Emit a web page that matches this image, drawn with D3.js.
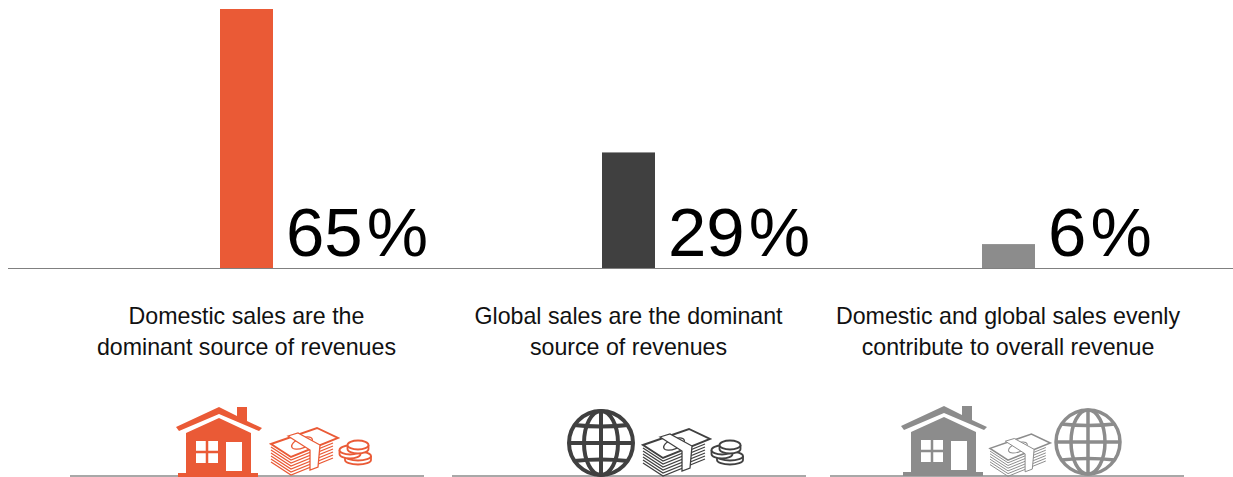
<!DOCTYPE html>
<html>
<head>
<meta charset="utf-8">
<script src="https://cdn.jsdelivr.net/npm/d3@7"></script>
<style>
  html, body { margin: 0; padding: 0; background: #fff; overflow: hidden; }
</style>
</head>
<body>
<div id="div_chart"></div>
<script>
// Chart data
const categories = ["domestic", "global", "even"];
const shares = [65, 29, 6];
const captions = [
    ["Domestic sales are the", "dominant source of revenues"],
    ["Global sales are the dominant", "source of revenues"],
    ["Domestic and global sales evenly", "contribute to overall revenue"]
];

// Basic size information
const svgWidth = 1233;
const svgHeight = 477;
const baseline = 268;
const barWidth = 53;

const colors = d3.scaleOrdinal().domain(categories).range(["#ea5a36", "#404040", "#8c8c8c"]);
const barLeft = d3.scaleOrdinal().domain(categories).range([220, 602, 982]);
const captionX = d3.scaleOrdinal().domain(categories).range([246.5, 628.5, 1008]);
const shelfLeft = d3.scaleOrdinal().domain(categories).range([70, 452, 830]);
const y = d3.scaleLinear().domain([0, 65]).range([baseline, 9]);

const svg = d3.select("#div_chart")
    .append("svg")
        .attr("width", svgWidth)
        .attr("height", svgHeight)
        .attr("viewBox", [0, 0, svgWidth, svgHeight])
        .style("display", "block")
        .style("font-family", "'Liberation Sans', Arial, sans-serif");

// Bars
svg.append("g")
    .selectAll("rect")
    .data(categories)
    .join("rect")
        .attr("x", d => barLeft(d))
        .attr("y", (d, i) => y(shares[i]))
        .attr("width", barWidth)
        .attr("height", (d, i) => baseline - y(shares[i]))
        .attr("fill", d => colors(d));

// Baseline
svg.append("line")
    .attr("x1", 8).attr("x2", svgWidth)
    .attr("y1", baseline + 0.5).attr("y2", baseline + 0.5)
    .attr("stroke", "#808080")
    .attr("stroke-width", 1);

// Percent labels, the % sign sits a little apart from the digits
const pctLabel = svg.append("g")
    .selectAll("text")
    .data(categories)
    .join("text")
        .attr("x", d => barLeft(d) + barWidth + 13)
        .attr("y", 256)
        .attr("font-size", 69)
        .attr("fill", "#000")
        .text((d, i) => shares[i]);
pctLabel.append("tspan")
    .attr("dx", 4)
    .text("%");

// Captions
const captionG = svg.append("g")
    .attr("text-anchor", "middle")
    .attr("font-size", 23.2)
    .attr("fill", "#111");

categories.forEach((c, i) => {
    captionG.selectAll(null)
        .data(captions[i])
        .join("text")
            .attr("x", captionX(c))
            .attr("y", (d, j) => 323.5 + j * 31)
            .text(d => d);
});

// Shelves under the icons
svg.append("g")
    .selectAll("line")
    .data(categories)
    .join("line")
        .attr("x1", d => shelfLeft(d))
        .attr("x2", d => shelfLeft(d) + 354)
        .attr("y1", 476).attr("y2", 476)
        .attr("stroke", "#a8a8a8")
        .attr("stroke-width", 2);

// Icons, in local coordinates
function drawHouse(g, color) {
    // roof band with chimney
    g.append("path")
        .attr("d", "M0,0 L18,9 L18,0 L28,0 L28,14 L43,21 L40,24 L0,7 L-40,24 L-43,20 Z")
        .attr("fill", color);
    // body
    g.append("path")
        .attr("d", "M0,11 L32,26 L32,66 L39,66 L39,70 L-41,70 L-41,66 L-33,66 L-33,26 Z")
        .attr("fill", color);
    // window and door
    g.append("rect").attr("x", -23).attr("y", 34).attr("width", 22).attr("height", 22).attr("fill", "#fff");
    g.append("path").attr("d", "M-12,34 V56 M-23,45 H-1").attr("stroke", color).attr("stroke-width", 2.5);
    g.append("rect").attr("x", 7).attr("y", 35).attr("width", 16).attr("height", 29).attr("fill", "#fff");
}

function drawMoney(g, color, sw) {
    // stack of notes
    d3.range(1, 7).forEach(i => {
        g.append("path")
            .attr("d", "M0," + (16 + i * 3) + " L20," + (29 + i * 3) + " L62," + (12 + i * 3))
            .attr("fill", "none")
            .attr("stroke", color)
            .attr("stroke-width", sw);
    });
    // top note
    g.append("path")
        .attr("d", "M0,16 L46,0 L67,10 L20,29 Z")
        .attr("fill", "#fff")
        .attr("stroke", color)
        .attr("stroke-width", sw + 0.6);
    g.append("ellipse")
        .attr("cx", 31).attr("cy", 15).attr("rx", 11).attr("ry", 5)
        .attr("transform", "rotate(-22 31 15)")
        .attr("fill", "none")
        .attr("stroke", color)
        .attr("stroke-width", sw);
    // paper band
    g.append("path")
        .attr("d", "M17,8 L27,5 L49,17 L47,39 L39,42 L39,22 Z")
        .attr("fill", "#fff")
        .attr("stroke", color)
        .attr("stroke-width", sw);
}

function drawCoins(g, color) {
    [[18, 18, 13], [10, 12, 10.5], [18, 7, 10.5]].forEach(c => {
        const [cx, cy, rx] = c;
        g.append("path")
            .attr("d", "M" + (cx - rx) + "," + cy + " v4 a" + rx + ",4.5 0 0 0 " + (2 * rx) + ",0 v-4")
            .attr("fill", "#fff")
            .attr("stroke", color)
            .attr("stroke-width", 1.8);
        g.append("ellipse")
            .attr("cx", cx).attr("cy", cy).attr("rx", rx).attr("ry", 4.5)
            .attr("fill", "#fff")
            .attr("stroke", color)
            .attr("stroke-width", 1.8);
    });
}

function drawGlobe(g, color, sw) {
    const r = 32;
    const grid = g.append("g")
        .attr("fill", "none")
        .attr("stroke", color)
        .attr("stroke-width", sw);
    grid.append("circle").attr("r", r);
    grid.append("ellipse").attr("rx", 17).attr("ry", r);
    grid.append("path").attr("d", "M0," + -r + " V" + r + " M" + -r + ",0 H" + r);
    grid.append("path").attr("d", "M-27,-18 Q0,-15 27,-18 M-27,18 Q0,15 27,18");
}

function place(x, y, scale) {
    return svg.append("g").attr("transform", "translate(" + x + "," + y + ") scale(" + (scale || 1) + ")");
}

// Panel 1
drawHouse(place(219, 407), colors("domestic"));
drawMoney(place(271, 428), colors("domestic"), 1.3);
drawCoins(place(340, 438), colors("domestic"));

// Panel 2
drawGlobe(place(601, 443), colors("global"), 4);
drawMoney(place(643, 429), colors("global"), 1.3);
drawCoins(place(712, 438), colors("global"));

// Panel 3
drawHouse(place(944, 406), colors("even"));
drawMoney(place(990, 434, 0.9), colors("even"), 1.1);
drawGlobe(place(1088, 442), colors("even"), 3.5);
</script>
</body>
</html>
